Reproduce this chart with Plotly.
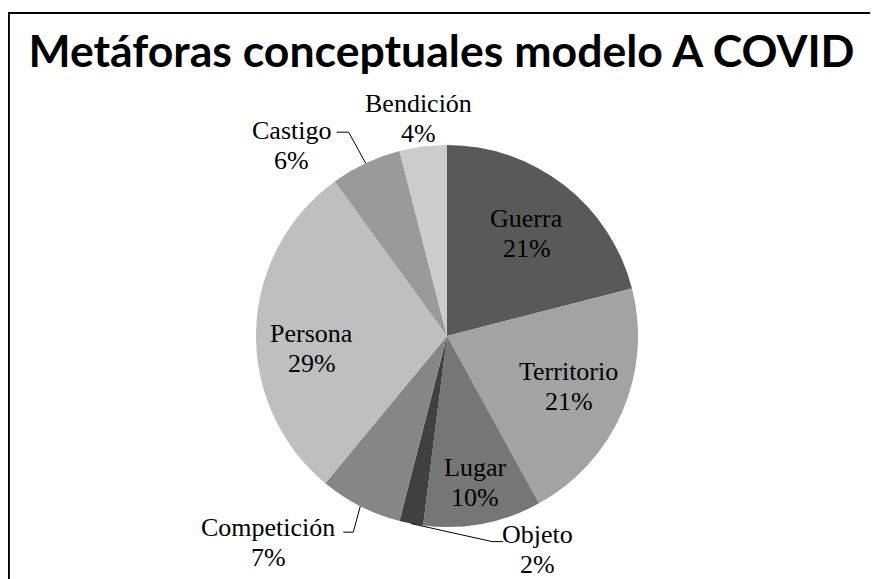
import math
import plotly.graph_objects as go

labels = ["Guerra", "Territorio", "Lugar", "Objeto", "Competición", "Persona", "Castigo", "Bendición"]
values = [21, 21, 10, 2, 7, 29, 6, 4]
colors = ["#595959", "#a3a3a3", "#767676", "#404040", "#868686", "#bfbfbf", "#9a9a9a", "#cccccc"]
title_text = "Metáforas conceptuales modelo A COVID"

# label placement style (pixels)
#   inside : ("in", radial fraction, angle tweak in degrees)
#   outside: ("out", text dx, text dy, leader path offsets relative to slice-edge point or None)
label_style = {
    "Guerra": ("in", 0.68, 0),
    "Territorio": ("in", 0.69, -1),
    "Lugar": ("in", 0.78, 0),
    "Persona": ("in", 0.71, -7),
    "Objeto": ("out", 126, 26, [(81, 18), (92, 18)]),
    "Competición": ("out", -92, 36, [(-7, 26), (-17, 26)]),
    "Castigo": ("out", -74, -18, [(-17, -31), (-29, -31)]),
    "Bendición": ("out", -5, -28, None),
}

W, H = 878, 579
OFF = 8  # page body margin compensation (screen px -> figure px)
cx, cy, R = 447, 336, 191  # screen px
LINE_GAP = 15


def px2paper(sx, sy):
    return (sx - OFF) / W, 1 - (sy - OFF) / H


fig = go.Figure(go.Pie(
    labels=labels,
    values=values,
    sort=False,
    direction="clockwise",
    rotation=0,
    marker=dict(colors=colors, line=dict(width=0)),
    textinfo="none",
    showlegend=False,
    hoverinfo="label+percent",
    domain=dict(x=[(cx - OFF - R) / W, (cx - OFF + R) / W],
                y=[(H - (cy - OFF) - R) / H, (H - (cy - OFF) + R) / H]),
))

font = dict(family="Liberation Serif", size=26, color="black")
total = sum(values)
annotations, shapes = [], []
cum = 0
for lab, v in zip(labels, values):
    mid = (cum + v / 2) / total * 2 * math.pi
    cum += v
    pct = f"{round(v / total * 100)}%"
    st = label_style[lab]
    if st[0] == "in":
        a = mid + math.radians(st[2])
        r = st[1] * R
        tx, ty = cx + r * math.sin(a), cy - r * math.cos(a)
    else:
        ex, ey = cx + R * math.sin(mid), cy - R * math.cos(mid)
        tx, ty = ex + st[1], ey + st[2]
        if st[3]:
            pts = [(ex, ey)] + [(ex + ox, ey + oy) for ox, oy in st[3]]
            path = ""
            for i, (sx, sy) in enumerate(pts):
                X, Y = px2paper(sx, sy)
                path += ("M" if i == 0 else " L") + f" {X:.5f} {Y:.5f}"
            shapes.append(dict(type="path", xref="paper", yref="paper", path=path,
                               line=dict(color="black", width=1)))
    for txt, sh in ((lab, -LINE_GAP), (pct, LINE_GAP)):
        X, Y = px2paper(tx, ty + sh)
        annotations.append(dict(x=X, y=Y, xref="paper", yref="paper", text=txt, showarrow=False,
                                font=font, xanchor="center", yanchor="middle"))

shapes.append(dict(type="rect", xref="paper", yref="paper", x0=0.001, x1=1.05, y0=-0.1,
                   y1=px2paper(0, 13)[1], line=dict(color="black", width=2),
                   fillcolor="rgba(0,0,0,0)", layer="above"))

fig.update_layout(
    width=W, height=H,
    margin=dict(l=0, r=0, t=0, b=0, autoexpand=False),
    paper_bgcolor="white",
    title=dict(text=title_text, x=(441.5 - OFF) / W, xanchor="center", y=1 - (51.5 - OFF) / H,
               yanchor="middle", font=dict(family="Lato", size=44.6, color="black", weight="bold")),
    annotations=annotations,
    shapes=shapes,
)

fig.write_html("out.html")
